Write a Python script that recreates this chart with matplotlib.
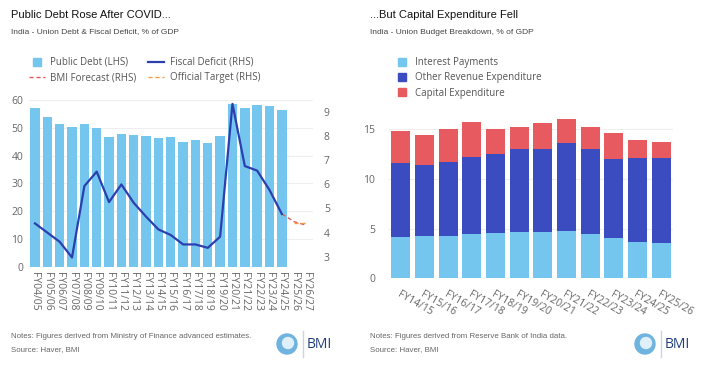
import matplotlib.pyplot as plt
from matplotlib.lines import Line2D
from matplotlib.patches import Circle
import numpy as np

# Left chart data
years_left = ['FY04/05', 'FY05/06', 'FY06/07', 'FY07/08', 'FY08/09', 'FY09/10', 'FY10/11',
              'FY11/12', 'FY12/13', 'FY13/14', 'FY14/15', 'FY15/16', 'FY16/17', 'FY17/18',
              'FY18/19', 'FY19/20', 'FY20/21', 'FY21/22', 'FY22/23', 'FY23/24', 'FY24/25',
              'FY25/26', 'FY26/27']
public_debt = [57.0, 54.0, 51.4, 50.4, 51.4, 49.9, 46.6, 47.6, 47.5, 47.2, 46.3, 46.8,
               44.9, 45.5, 44.6, 46.9, 58.6, 57.0, 58.2, 57.7, 56.4]
fiscal_deficit = [4.38, 4.0, 3.62, 2.97, 5.92, 6.52, 5.26, 5.99, 5.23, 4.66, 4.13, 3.9,
                  3.51, 3.51, 3.37, 3.83, 9.32, 6.75, 6.56, 5.76, 4.77]
bmi_forecast = [4.77, 4.45, 4.3]
official_target = [4.4, 4.4]

# Right chart data
years_right = ['FY14/15', 'FY15/16', 'FY16/17', 'FY17/18', 'FY18/19', 'FY19/20',
               'FY20/21', 'FY21/22', 'FY22/23', 'FY23/24', 'FY24/25', 'FY25/26']
interest = [4.19, 4.30, 4.26, 4.43, 4.56, 4.66, 4.66, 4.77, 4.50, 4.03, 3.66, 3.56]
other_rev = [7.45, 7.08, 7.45, 7.82, 7.99, 8.33, 8.39, 8.85, 8.49, 8.02, 8.45, 8.55]
capex = [3.16, 3.05, 3.32, 3.52, 2.45, 2.24, 2.62, 2.45, 2.28, 2.55, 1.82, 1.61]

c_light = '#74c6ef'
c_dark = '#3a4cbf'
c_red = '#e65a60'
c_line = '#2b3fae'
grey = '#666666'
tick_font = 'Open Sans'
title_font = 'Liberation Sans'

fig = plt.figure(figsize=(7.11, 3.74), dpi=100)
W, H = 711, 374


def frac(x0, y0, x1, y1):
    return [x0 / W, 1 - y1 / H, (x1 - x0) / W, (y1 - y0) / H]


# ---- left chart ----
ax1 = fig.add_axes(frac(28.8, 100, 312.7, 266.7))
x_left = np.arange(len(years_left))
ax1.bar(x_left[:len(public_debt)], public_debt, width=0.76, color=c_light, zorder=2)
ax1.set_xlim(-0.5, len(years_left) - 0.5)
ax1.set_ylim(0, 60)
ax1.set_yticks([0, 10, 20, 30, 40, 50, 60])
ax1.grid(axis='y', color='#eeeeee', linewidth=0.8, zorder=0)
ax1.set_xticks(x_left)
ax1.set_xticklabels(years_left, rotation=270, fontsize=7.5, color=grey, family=tick_font)
ax1.tick_params(axis='both', length=0, labelsize=7.5, labelcolor=grey, pad=4)
for lab in ax1.get_yticklabels():
    lab.set_family(tick_font)
for s in ax1.spines.values():
    s.set_visible(False)

ax2 = ax1.twinx()
ax2.plot(x_left[:len(fiscal_deficit)], fiscal_deficit, color=c_line, linewidth=1.6, zorder=3)
n = len(fiscal_deficit)
ax2.plot(x_left[n - 1:n - 1 + len(bmi_forecast)], bmi_forecast, color='#e05a5a',
         linewidth=1, dashes=(3, 2))
ax2.plot(x_left[n:n + len(official_target)], official_target, color='#f0a040',
         linewidth=1, dashes=(3, 2))
ax2.set_ylim(2.59, 9.48)
ax2.set_yticks([3, 4, 5, 6, 7, 8, 9])
ax2.tick_params(axis='y', length=0, labelsize=7.5, labelcolor=grey, pad=8)
for lab in ax2.get_yticklabels():
    lab.set_family(tick_font)
for s in ax2.spines.values():
    s.set_visible(False)

handles = [
    Line2D([], [], marker='s', linestyle='none', color=c_light, markersize=5.5),
    Line2D([], [], color='#e05a5a', linewidth=1, dashes=(3, 2)),
    Line2D([], [], color=c_line, linewidth=1.6),
    Line2D([], [], color='#f0a040', linewidth=1, dashes=(3, 2)),
]
labels = ['Public Debt (LHS)', 'BMI Forecast (RHS)', 'Fiscal Deficit (RHS)', 'Official Target (RHS)']
fig.legend(handles, labels, ncol=2, loc='upper left', bbox_to_anchor=(29 / W, 1 - 57 / H),
           frameon=False, prop={'family': tick_font, 'size': 7}, labelcolor='#555555',
           handlelength=1.6, handletextpad=0.6, columnspacing=1.2, labelspacing=0.45,
           borderaxespad=0, borderpad=0)

fig.text(11 / W, 1 - 15 / H, 'Public Debt Rose After COVID...', fontsize=8, family=title_font,
         color='#111111', va='center')
fig.text(11 / W, 1 - 32 / H, 'India - Union Debt & Fiscal Deficit, % of GDP', fontsize=6,
         family=title_font, color='#444444', va='center')
fig.text(11 / W, 1 - 337 / H, 'Notes: Figures derived from Ministry of Finance advanced estimates.',
         fontsize=5.7, family=title_font, color=grey, va='center')
fig.text(11 / W, 1 - 350 / H, 'Source: Haver, BMI', fontsize=5.7, family=title_font,
         color=grey, va='center')

# ---- right chart ----
ax3 = fig.add_axes(frac(388.9, 114.4, 672.9, 278.3))
x_right = np.arange(len(years_right))
ore_bottom = np.array(interest)
cap_bottom = ore_bottom + np.array(other_rev)
ax3.bar(x_right, interest, width=0.8, color=c_light, zorder=2)
ax3.bar(x_right, other_rev, width=0.8, bottom=ore_bottom, color=c_dark, zorder=2)
ax3.bar(x_right, capex, width=0.8, bottom=cap_bottom, color=c_red, zorder=2)
ax3.set_xlim(-0.5, len(years_right) - 0.5)
ax3.set_ylim(0, 16.5)
ax3.set_yticks([0, 5, 10, 15])
ax3.grid(axis='y', color='#eeeeee', linewidth=0.8, zorder=0)
ax3.set_xticks(x_right)
ax3.set_xticklabels(years_right, rotation=-30, ha='left', rotation_mode='anchor',
                    fontsize=7.5, color=grey, family=tick_font)
ax3.tick_params(axis='both', length=0, labelsize=7.5, labelcolor=grey, pad=8)
ax3.tick_params(axis='y', pad=10)
for lab in ax3.get_yticklabels():
    lab.set_family(tick_font)
for s in ax3.spines.values():
    s.set_visible(False)

handles_r = [Line2D([], [], marker='s', linestyle='none', color=c, markersize=5.5)
             for c in [c_light, c_dark, c_red]]
fig.legend(handles_r, ['Interest Payments', 'Other Revenue Expenditure', 'Capital Expenditure'],
           loc='upper left', bbox_to_anchor=(396 / W, 1 - 57 / H), frameon=False,
           prop={'family': tick_font, 'size': 7}, labelcolor='#555555',
           handlelength=1.2, handletextpad=0.8, labelspacing=0.45, borderaxespad=0, borderpad=0)

fig.text(370 / W, 1 - 15 / H, '...But Capital Expenditure Fell', fontsize=8, family=title_font,
         color='#111111', va='center')
fig.text(370 / W, 1 - 32 / H, 'India - Union Budget Breakdown, % of GDP', fontsize=6,
         family=title_font, color='#444444', va='center')
fig.text(370 / W, 1 - 337 / H, 'Notes: Figures derived from Reserve Bank of India data.',
         fontsize=5.7, family=title_font, color=grey, va='center')
fig.text(370 / W, 1 - 350 / H, 'Source: Haver, BMI', fontsize=5.7, family=title_font,
         color=grey, va='center')

# ---- BMI logos ----
overlay = fig.add_axes([0, 0, 1, 1], zorder=-1)
overlay.set_xlim(0, W)
overlay.set_ylim(H, 0)
overlay.axis('off')
for cx, bx in [(287, 303), (645, 661)]:
    overlay.add_patch(Circle((cx, 344), 10, color='#6fb3df'))
    overlay.add_patch(Circle((cx + 1, 343), 5.5, color='#dff0fa'))
    overlay.plot([bx, bx], [331, 357], color='#c8d6e4', linewidth=1)
    overlay.text(bx + 4, 344, 'BMI', fontsize=10, family='Open Sans', color='#1f3d7a',
                 va='center', ha='left')

fig.savefig('out.png', dpi=100)
